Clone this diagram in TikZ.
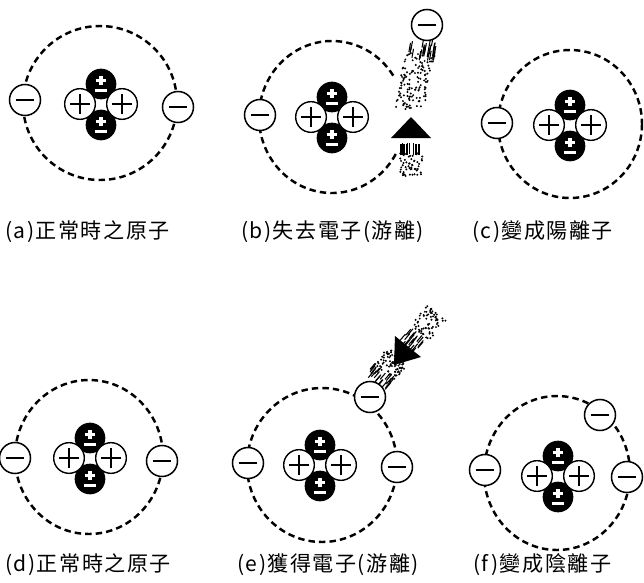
\documentclass[tikz,border=0pt]{standalone}
\usepackage{fontspec}
\newfontfamily\cjk[LetterSpace=7]{Noto Sans CJK TC}
\begin{document}
\begin{tikzpicture}[x=0.03cm,y=-0.03cm,
    orbit/.style={dash pattern=on 5.5pt off 3.5pt, line width=2.1pt},
    electron/.style={circle, draw, line width=1.3pt, fill=white, minimum size=0.93cm, inner sep=0pt,
      path picture={\path (path picture bounding box.center) coordinate (pp);
        \draw[line width=1.6pt] ([xshift=-0.28cm]pp) -- ([xshift=0.28cm]pp);}},
    proton/.style={circle, draw, line width=1.2pt, fill=white, minimum size=0.92cm, inner sep=0pt,
      path picture={\path (path picture bounding box.center) coordinate (pp);
        \draw[line width=1.1pt] ([xshift=-0.3cm]pp) -- ([xshift=0.3cm]pp)
          ([yshift=-0.3cm]pp) -- ([yshift=0.3cm]pp);}},
    neutron/.style={circle, fill=black, minimum size=0.92cm, inner sep=0pt,
      path picture={\path (path picture bounding box.center) coordinate (pp);
        \draw[white, line width=2.6pt] ([shift={(-0.16cm,0.1cm)}]pp) -- ([shift={(0.16cm,0.1cm)}]pp)
          ([yshift=-0.04cm]pp) -- ([yshift=0.25cm]pp)
          ([shift={(-0.19cm,-0.2cm)}]pp) -- ([shift={(0.19cm,-0.2cm)}]pp);}},
    caption/.style={anchor=west, inner sep=0pt, font=\cjk\fontsize{18}{18}\selectfont},
    streak/.style={line width=0.9pt},
    nucleus/.pic={
      \node[neutron] (-top) at (0,-20) {};
      \node[neutron] (-bot) at (0,21) {};
      \node[proton] (-left) at (-21,0) {};
      \node[proton] (-right) at (21,0) {};
    }]
  \useasboundingbox (0,0) rectangle (644,582);

  % (a) normal atom
  \draw[orbit] (100,103) ellipse [x radius=77, y radius=77];
  \pic (a-nuc) at (101,104) {nucleus};
  \node[electron] (a-e1) at (25,100) {};
  \node[electron] (a-e2) at (178,107) {};
  \node[caption] (a-cap) at (5,232) {(a)正常時之原子};

  % (b) electron leaves the atom
  \draw[orbit] (332,117) ++(-33:73 and 76) arc[start angle=-33, end angle=-333, x radius=73, y radius=76];
  \pic (b-nuc) at (332,117) {nucleus};
  \node[electron] (b-e1) at (260,115) {};
  \pgfmathsetseed{3}
  \foreach \k in {1,...,26} {
    \pgfmathsetmacro{\s}{rnd*28-14}
    \pgfmathsetmacro{\t}{rnd*16}
    \draw[streak] ({425+\s-0.2*\t},{36+\t}) -- ++(-1.6,9);
  }
  \foreach \k in {1,...,130} {
    \pgfmathsetmacro{\s}{rnd*30-15}
    \pgfmathsetmacro{\t}{rnd*56}
    \fill ({421+\s-0.22*\t},{53+\t}) circle (1.1);
  }
  \fill (411,117) -- (431,138) -- (391,138) -- cycle;
  \foreach \k in {1,...,18} {
    \pgfmathsetmacro{\s}{rnd*22}
    \draw[streak] ({400+\s},{142+rnd*3}) -- ++(0,11);
  }
  \foreach \k in {1,...,55} {
    \fill ({400+rnd*23},{153+rnd*23}) circle (1.1);
  }
  \node[electron] (b-e2) at (427,25) {};
  \node[caption] (b-cap) at (241,232) {(b)失去電子(游離)};

  % (c) positive ion
  \draw[orbit] (570,124) ellipse [x radius=72, y radius=74];
  \pic (c-nuc) at (570,125) {nucleus};
  \node[electron] (c-e1) at (497,123) {};
  \node[caption] (c-cap) at (472,232) {(c)變成陽離子};

  % (d) normal atom
  \draw[orbit] (89,457) ellipse [x radius=74, y radius=77];
  \pic (d-nuc) at (90,458) {nucleus};
  \node[electron] (d-e1) at (15,458) {};
  \node[electron] (d-e2) at (162,461) {};
  \node[caption] (d-cap) at (5,565) {(d)正常時之原子};

  % (e) electron is captured
  \draw[orbit] (322,465) ellipse [x radius=75, y radius=77];
  \pic (e-nuc) at (320,465) {nucleus};
  \node[electron] (e-e1) at (248,463) {};
  \node[electron] (e-e2) at (397,467) {};
  \foreach \k in {1,...,24} {
    \pgfmathsetmacro{\u}{2+rnd*16}
    \pgfmathsetmacro{\s}{rnd*22-11}
    \draw[streak] ({408+0.646*\u+0.763*\s},{347-0.763*\u+0.646*\s}) -- ++(-5.2,6.1);
  }
  \foreach \k in {1,...,70} {
    \pgfmathsetmacro{\u}{18+rnd*27}
    \pgfmathsetmacro{\s}{rnd*24-12}
    \fill ({408+0.646*\u+0.763*\s},{347-0.763*\u+0.646*\s}) circle (1.1);
  }
  \foreach \k in {1,...,70} {
    \pgfmathsetmacro{\u}{rnd*22}
    \pgfmathsetmacro{\s}{rnd*28-14}
    \fill ({398-0.646*\u+0.763*\s},{356+0.763*\u+0.646*\s}) circle (1.1);
  }
  \foreach \k in {1,...,24} {
    \pgfmathsetmacro{\u}{18+rnd*10}
    \pgfmathsetmacro{\s}{rnd*26-13}
    \draw[streak] ({398-0.646*\u+0.763*\s},{356+0.763*\u+0.646*\s}) -- ++(-5.2,6.1);
  }
  \fill (394,365) -- (421,357) -- (395,336) -- cycle;
  \node[electron] (e-e3) at (370,397) {};
  \node[caption] (e-cap) at (237,565) {(e)獲得電子(游離)};

  % (f) negative ion
  \draw[orbit] (557,473) ellipse [x radius=73, y radius=77];
  \pic (f-nuc) at (558,476) {nucleus};
  \node[electron] (f-e1) at (485,470) {};
  \node[electron] (f-e2) at (627,477) {};
  \node[electron] (f-e3) at (600,415) {};
  \node[caption] (f-cap) at (473,565) {(f)變成陰離子};
\end{tikzpicture}
\end{document}
